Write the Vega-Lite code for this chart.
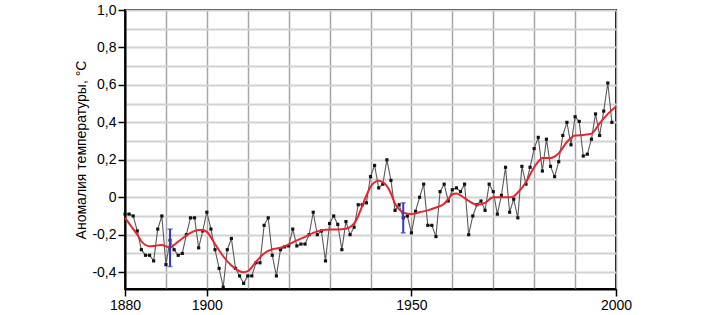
{
  "$schema": "https://vega.github.io/schema/vega-lite/v6.json",
  "width": 491,
  "height": 279,
  "autosize": {"type": "none"},
  "padding": {"left": 125, "top": 10, "right": 87, "bottom": 26},
  "background": "white",
  "config": {
    "view": {"stroke": "black", "strokeWidth": 2},
    "font": "Liberation Sans",
    "axis": {"labelFont": "Liberation Sans", "titleFont": "Liberation Sans"}
  },
  "datasets": {
    "annual": [
      {"year": 1880, "t": -0.09}, {"year": 1881, "t": -0.09}, {"year": 1882, "t": -0.10}, {"year": 1883, "t": -0.18},
      {"year": 1884, "t": -0.28}, {"year": 1885, "t": -0.31}, {"year": 1886, "t": -0.31}, {"year": 1887, "t": -0.34},
      {"year": 1888, "t": -0.17}, {"year": 1889, "t": -0.10}, {"year": 1890, "t": -0.36}, {"year": 1891, "t": -0.23},
      {"year": 1892, "t": -0.28}, {"year": 1893, "t": -0.31}, {"year": 1894, "t": -0.30}, {"year": 1895, "t": -0.20},
      {"year": 1896, "t": -0.11}, {"year": 1897, "t": -0.11}, {"year": 1898, "t": -0.27}, {"year": 1899, "t": -0.18},
      {"year": 1900, "t": -0.08}, {"year": 1901, "t": -0.17}, {"year": 1902, "t": -0.28}, {"year": 1903, "t": -0.38},
      {"year": 1904, "t": -0.48}, {"year": 1905, "t": -0.28}, {"year": 1906, "t": -0.22}, {"year": 1907, "t": -0.38},
      {"year": 1908, "t": -0.42}, {"year": 1909, "t": -0.46}, {"year": 1910, "t": -0.42}, {"year": 1911, "t": -0.42},
      {"year": 1912, "t": -0.35}, {"year": 1913, "t": -0.35}, {"year": 1914, "t": -0.15}, {"year": 1915, "t": -0.11},
      {"year": 1916, "t": -0.31}, {"year": 1917, "t": -0.42}, {"year": 1918, "t": -0.28}, {"year": 1919, "t": -0.265},
      {"year": 1920, "t": -0.26}, {"year": 1921, "t": -0.17}, {"year": 1922, "t": -0.26}, {"year": 1923, "t": -0.25},
      {"year": 1924, "t": -0.25}, {"year": 1925, "t": -0.20}, {"year": 1926, "t": -0.08}, {"year": 1927, "t": -0.20},
      {"year": 1928, "t": -0.18}, {"year": 1929, "t": -0.34}, {"year": 1930, "t": -0.14}, {"year": 1931, "t": -0.10},
      {"year": 1932, "t": -0.145}, {"year": 1933, "t": -0.28}, {"year": 1934, "t": -0.13}, {"year": 1935, "t": -0.20},
      {"year": 1936, "t": -0.16}, {"year": 1937, "t": -0.04}, {"year": 1938, "t": -0.04}, {"year": 1939, "t": -0.03},
      {"year": 1940, "t": 0.11}, {"year": 1941, "t": 0.17}, {"year": 1942, "t": 0.05}, {"year": 1943, "t": 0.07},
      {"year": 1944, "t": 0.20}, {"year": 1945, "t": 0.09}, {"year": 1946, "t": -0.07}, {"year": 1947, "t": -0.04},
      {"year": 1948, "t": -0.11}, {"year": 1949, "t": -0.10}, {"year": 1950, "t": -0.19}, {"year": 1951, "t": -0.075},
      {"year": 1952, "t": 0.0}, {"year": 1953, "t": 0.07}, {"year": 1954, "t": -0.15}, {"year": 1955, "t": -0.15},
      {"year": 1956, "t": -0.21}, {"year": 1957, "t": 0.03}, {"year": 1958, "t": 0.07}, {"year": 1959, "t": -0.02},
      {"year": 1960, "t": 0.04}, {"year": 1961, "t": 0.05}, {"year": 1962, "t": 0.03}, {"year": 1963, "t": 0.07},
      {"year": 1964, "t": -0.20}, {"year": 1965, "t": -0.10}, {"year": 1966, "t": -0.04}, {"year": 1967, "t": -0.02},
      {"year": 1968, "t": -0.07}, {"year": 1969, "t": 0.07}, {"year": 1970, "t": 0.03}, {"year": 1971, "t": -0.09},
      {"year": 1972, "t": 0.01}, {"year": 1973, "t": 0.16}, {"year": 1974, "t": -0.08}, {"year": 1975, "t": -0.01},
      {"year": 1976, "t": -0.11}, {"year": 1977, "t": 0.165}, {"year": 1978, "t": 0.07}, {"year": 1979, "t": 0.16},
      {"year": 1980, "t": 0.26}, {"year": 1981, "t": 0.32}, {"year": 1982, "t": 0.14}, {"year": 1983, "t": 0.31},
      {"year": 1984, "t": 0.165}, {"year": 1985, "t": 0.11}, {"year": 1986, "t": 0.19}, {"year": 1987, "t": 0.33},
      {"year": 1988, "t": 0.40}, {"year": 1989, "t": 0.28}, {"year": 1990, "t": 0.43}, {"year": 1991, "t": 0.405},
      {"year": 1992, "t": 0.22}, {"year": 1993, "t": 0.23}, {"year": 1994, "t": 0.31}, {"year": 1995, "t": 0.445},
      {"year": 1996, "t": 0.33}, {"year": 1997, "t": 0.46}, {"year": 1998, "t": 0.61}, {"year": 1999, "t": 0.40}
    ],
    "smooth": [
      {"year": 1880, "t": -0.11}, {"year": 1881, "t": -0.14}, {"year": 1882, "t": -0.17}, {"year": 1883, "t": -0.20},
      {"year": 1884, "t": -0.235}, {"year": 1885, "t": -0.255}, {"year": 1886, "t": -0.262}, {"year": 1887, "t": -0.26},
      {"year": 1888, "t": -0.257}, {"year": 1889, "t": -0.255}, {"year": 1890, "t": -0.262}, {"year": 1891, "t": -0.27},
      {"year": 1892, "t": -0.255}, {"year": 1894, "t": -0.22}, {"year": 1896, "t": -0.19}, {"year": 1898, "t": -0.175},
      {"year": 1899, "t": -0.175}, {"year": 1900, "t": -0.185}, {"year": 1902, "t": -0.25}, {"year": 1904, "t": -0.315},
      {"year": 1906, "t": -0.365}, {"year": 1908, "t": -0.395}, {"year": 1909, "t": -0.40}, {"year": 1910, "t": -0.395},
      {"year": 1912, "t": -0.345}, {"year": 1914, "t": -0.30}, {"year": 1916, "t": -0.278}, {"year": 1918, "t": -0.27},
      {"year": 1920, "t": -0.252}, {"year": 1922, "t": -0.23}, {"year": 1924, "t": -0.212}, {"year": 1926, "t": -0.19},
      {"year": 1928, "t": -0.177}, {"year": 1930, "t": -0.172}, {"year": 1932, "t": -0.172}, {"year": 1934, "t": -0.168},
      {"year": 1936, "t": -0.14}, {"year": 1937, "t": -0.10}, {"year": 1938, "t": -0.045}, {"year": 1939, "t": 0.01},
      {"year": 1940, "t": 0.055}, {"year": 1941, "t": 0.08}, {"year": 1942, "t": 0.088}, {"year": 1943, "t": 0.08},
      {"year": 1944, "t": 0.06}, {"year": 1945, "t": 0.02}, {"year": 1946, "t": -0.035}, {"year": 1947, "t": -0.065},
      {"year": 1948, "t": -0.082}, {"year": 1950, "t": -0.09}, {"year": 1952, "t": -0.08}, {"year": 1954, "t": -0.07},
      {"year": 1956, "t": -0.055}, {"year": 1958, "t": -0.035}, {"year": 1959, "t": -0.01}, {"year": 1960, "t": 0.015},
      {"year": 1961, "t": 0.02}, {"year": 1962, "t": 0.01}, {"year": 1964, "t": -0.02}, {"year": 1966, "t": -0.04},
      {"year": 1968, "t": -0.03}, {"year": 1970, "t": 0.0}, {"year": 1972, "t": 0.0}, {"year": 1974, "t": 0.0},
      {"year": 1975, "t": 0.005}, {"year": 1976, "t": 0.025}, {"year": 1978, "t": 0.08}, {"year": 1980, "t": 0.16},
      {"year": 1981, "t": 0.19}, {"year": 1982, "t": 0.21}, {"year": 1984, "t": 0.21}, {"year": 1986, "t": 0.235},
      {"year": 1988, "t": 0.295}, {"year": 1990, "t": 0.33}, {"year": 1992, "t": 0.333}, {"year": 1994, "t": 0.34},
      {"year": 1996, "t": 0.395}, {"year": 1998, "t": 0.445}, {"year": 2000, "t": 0.485}
    ],
    "err": [
      {"year": 1891, "t": -0.37, "hi": -0.17},
      {"year": 1948, "t": -0.19, "hi": -0.03}
    ]
  },
  "layer": [
    {
      "data": {"name": "annual"},
      "mark": {"type": "line", "color": "#5a5a5a", "strokeWidth": 1.1},
      "encoding": {
        "x": {
          "field": "year", "type": "quantitative",
          "scale": {"domain": [1880, 2000], "nice": false, "zero": false},
          "axis": {
            "title": null,
            "values": [1880, 1890, 1900, 1910, 1920, 1930, 1940, 1950, 1960, 1970, 1980, 1990, 2000],
            "tickCount": 30,
            "labelExpr": "indexof([1880,1900,1950,2000], datum.value) >= 0 ? '' + datum.value : ''",
            "labelFontSize": 14, "labelColor": "black", "labelPadding": 2, "labelFlush": false, "labelOverlap": false,
            "tickSize": 7, "tickColor": "black", "tickWidth": 1.5,
            "tickOpacity": {"condition": {"test": "indexof([1880,1900,1950,2000], datum.value) < 0", "value": 0}, "value": 1},
            "domainColor": "black", "domainWidth": 2,
            "grid": true, "gridColor": "#a6a6a6", "gridWidth": 1.5
          }
        },
        "y": {
          "field": "t", "type": "quantitative",
          "scale": {"domain": [-0.49, 1.0], "nice": false, "zero": false},
          "axis": {
            "title": "Аномалия температуры, °C",
            "titleFontSize": 14, "titleFontWeight": "normal", "titleColor": "black", "titlePadding": 3,
            "values": [-0.4, -0.3, -0.2, -0.1, 0, 0.1, 0.2, 0.3, 0.4, 0.5, 0.6, 0.7, 0.8, 0.9, 1.0],
            "tickCount": 30,
            "labelExpr": "abs(round(datum.value*10)) % 2 == 1 ? '' : (abs(datum.value) < 0.001 ? '0' : replace(replace(format(datum.value, '.1f'), '.', ','), '\u2212', '-'))",
            "labelFontSize": 14, "labelColor": "black", "labelPadding": 2, "labelOverlap": false, "labelFlush": false, "labelBound": false,
            "tickSize": 7, "tickColor": "black", "tickWidth": 1.5,
            "tickOpacity": {"condition": {"test": "abs(round(datum.value*10)) % 2 == 1", "value": 0}, "value": 1},
            "domainColor": "black", "domainWidth": 2,
            "grid": true, "gridColor": "#d2d2d2", "gridWidth": 2, "gridOpacity": 1
          }
        }
      }
    },
    {
      "data": {"name": "annual"},
      "mark": {"type": "point", "shape": "square", "filled": true, "color": "#111111", "size": 10, "opacity": 1},
      "encoding": {
        "x": {"field": "year", "type": "quantitative"},
        "y": {"field": "t", "type": "quantitative"}
      }
    },
    {
      "data": {"name": "smooth"},
      "mark": {"type": "line", "color": "#e3262f", "strokeWidth": 2, "interpolate": "monotone"},
      "encoding": {
        "x": {"field": "year", "type": "quantitative"},
        "y": {"field": "t", "type": "quantitative"}
      }
    },
    {
      "data": {"name": "err"},
      "mark": {"type": "rule", "color": "#3636d0", "strokeWidth": 2},
      "encoding": {
        "x": {"field": "year", "type": "quantitative"},
        "y": {"field": "t", "type": "quantitative"},
        "y2": {"field": "hi"}
      }
    },
    {
      "data": {"name": "err"},
      "mark": {"type": "tick", "orient": "horizontal", "color": "#3636d0", "thickness": 1.5, "size": 5},
      "encoding": {
        "x": {"field": "year", "type": "quantitative"},
        "y": {"field": "t", "type": "quantitative"}
      }
    },
    {
      "data": {"name": "err"},
      "mark": {"type": "tick", "orient": "horizontal", "color": "#3636d0", "thickness": 1.5, "size": 5},
      "encoding": {
        "x": {"field": "year", "type": "quantitative"},
        "y": {"field": "hi", "type": "quantitative"}
      }
    }
  ]
}
